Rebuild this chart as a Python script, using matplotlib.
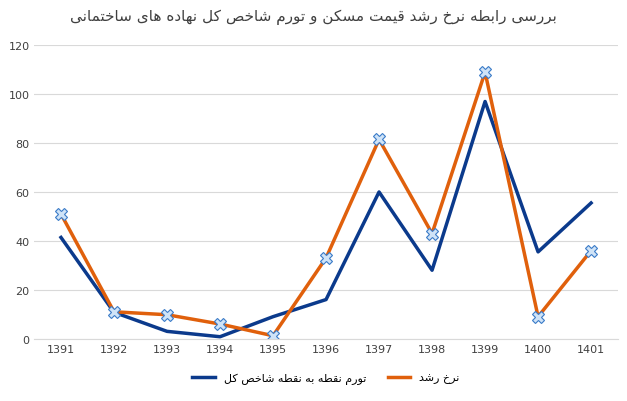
import matplotlib
matplotlib.use("Agg")
import matplotlib.pyplot as plt

years = ["1391","1392","1393","1394","1395","1396","1397","1398","1399","1400","1401"]
inflation = [41.4, 10.8, 3, 0.8, 9, 16, 60, 28, 97, 35.5, 55.5]
growth = [51, 11, 9.8, 6, 1.2, 33, 81.5, 43, 109, 9, 36]
title_fa = "بررسی رابطه نرخ رشد قیمت مسکن و تورم شاخص کل نهاده های ساختمانی"
label_inf = "تورم نقطه به نقطه شاخص کل"
label_gr = "نرخ رشد"

FORMS = {
 'ب':(0xFE8F,0xFE90,0xFE91,0xFE92),'ت':(0xFE95,0xFE96,0xFE97,0xFE98),
 'خ':(0xFEA5,0xFEA6,0xFEA7,0xFEA8),'د':(0xFEA9,0xFEAA,None,None),
 'ر':(0xFEAD,0xFEAE,None,None),'س':(0xFEB1,0xFEB2,0xFEB3,0xFEB4),
 'ش':(0xFEB5,0xFEB6,0xFEB7,0xFEB8),'ص':(0xFEB9,0xFEBA,0xFEBB,0xFEBC),
 'ط':(0xFEC1,0xFEC2,0xFEC3,0xFEC4),'ق':(0xFED5,0xFED6,0xFED7,0xFED8),
 'ل':(0xFEDD,0xFEDE,0xFEDF,0xFEE0),'م':(0xFEE1,0xFEE2,0xFEE3,0xFEE4),
 'ن':(0xFEE5,0xFEE6,0xFEE7,0xFEE8),'ه':(0xFEE9,0xFEEA,0xFEEB,0xFEEC),
 'و':(0xFEED,0xFEEE,None,None),'ا':(0xFE8D,0xFE8E,None,None),
 'ی':(0xFBFC,0xFBFD,0xFBFE,0xFBFF),'ک':(0xFB8E,0xFB8F,0xFB90,0xFB91),
}
def shape(s):
    out=[]
    for i,c in enumerate(s):
        if c not in FORMS:
            out.append(c); continue
        prev = s[i-1] if i>0 else ''
        nxt = s[i+1] if i+1<len(s) else ''
        jp = prev in FORMS and FORMS[prev][2] is not None
        jn = nxt in FORMS and FORMS[c][2] is not None
        f = FORMS[c]
        if jp and jn: cp=f[3]
        elif jp: cp=f[1]
        elif jn: cp=f[2]
        else: cp=f[0]
        out.append(chr(cp))
    return ''.join(out)[::-1]

plt.rcParams['font.family'] = ['DejaVu Sans']
fig, ax = plt.subplots(figsize=(6.27,4.02), dpi=100)
fig.subplots_adjust(left=0.055, right=0.985, top=0.885, bottom=0.155)
x = range(len(years))
ax.plot(x, inflation, color='#0b3a8c', lw=2.5, label=shape(label_inf))
ax.plot(x, growth, color='#e0600c', lw=2.5, label=shape(label_gr))
ax.plot(x, growth, ls='none', marker='X', ms=8, mfc='#cfe3f7', mec='#3a7bc8', mew=0.8)
ax.set_xticks(list(x)); ax.set_xticklabels(years)
ax.set_ylim(0,120); ax.set_yticks(range(0,121,20))
ax.set_xlim(-0.5, len(years)-0.5)
ax.grid(axis='y', color='#d9d9d9', lw=0.8)
ax.set_axisbelow(True)
for s in ['top','right','left']: ax.spines[s].set_visible(False)
ax.spines['bottom'].set_color('#d9d9d9')
ax.tick_params(length=0, labelsize=8, colors='#404040')
fig.suptitle(shape(title_fa), fontsize=11, color='#404040', y=0.975)
ax.legend(loc='upper center', bbox_to_anchor=(0.5,-0.08), ncol=2, frameon=False, fontsize=8)
fig.savefig('out.png')
